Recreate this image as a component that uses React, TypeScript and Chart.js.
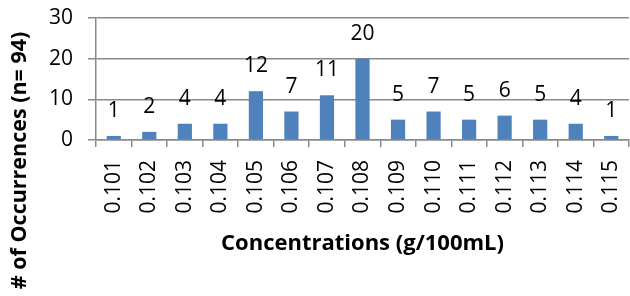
import React, { useEffect, useRef } from "react";
import { Chart, registerables } from "chart.js";

Chart.register(...registerables);

const categories = ["0.101", "0.102", "0.103", "0.104", "0.105", "0.106", "0.107", "0.108", "0.109", "0.110", "0.111", "0.112", "0.113", "0.114", "0.115"];
const occurrences = [1, 2, 4, 4, 12, 7, 11, 20, 5, 7, 5, 6, 5, 4, 1];
const yTicks = [0, 10, 20, 30];
const xTitle = "Concentrations (g/100mL)";
const yTitle = "# of Occurrences (n= 94)";

const FONT = "'Open Sans', sans-serif";
const GRID = "#8a8a8a";

const dataLabels = {
  id: "dataLabels",
  afterDatasetsDraw(chart: any) {
    const ctx = chart.ctx;
    const meta = chart.getDatasetMeta(0);
    ctx.save();
    ctx.font = `21px ${FONT}`;
    ctx.fillStyle = "#000";
    ctx.textAlign = "center";
    ctx.textBaseline = "alphabetic";
    meta.data.forEach((bar: any, i: number) => {
      ctx.fillText(String(occurrences[i]), bar.x, bar.y - 19);
    });
    ctx.restore();
  },
};

const yTitlePlugin = {
  id: "yTitlePlugin",
  afterDraw(chart: any) {
    const ctx = chart.ctx;
    ctx.save();
    ctx.translate(20, chart.height * 0.542);
    ctx.rotate(-Math.PI / 2);
    ctx.font = `bold 21.5px ${FONT}`;
    ctx.fillStyle = "#000";
    ctx.textAlign = "center";
    ctx.textBaseline = "middle";
    ctx.fillText(yTitle, 0, 0);
    ctx.restore();
  },
};

export default function App() {
  const ref = useRef<HTMLCanvasElement>(null);
  useEffect(() => {
    document.body.style.margin = "0";
    const chart = new Chart(ref.current!, {
      type: "bar",
      data: {
        labels: categories,
        datasets: [
          {
            data: occurrences,
            backgroundColor: "#4F81BD",
            borderWidth: 0,
            barPercentage: 0.4,
            categoryPercentage: 1,
          },
        ],
      },
      options: {
        responsive: false,
        animation: false,
        layout: { padding: { top: 18, right: 1, left: 0, bottom: 0 } },
        plugins: { legend: { display: false }, tooltip: { enabled: false } },
        scales: {
          x: {
            offset: true,
            grid: { offset: true, drawOnChartArea: false, drawTicks: true, tickLength: 7, color: GRID, lineWidth: 1.5 },
            border: { color: GRID, width: 1.5 },
            ticks: { color: "#000", font: { family: FONT, size: 21 }, maxRotation: 90, minRotation: 90, padding: 13, autoSkip: false },
            title: { display: true, text: xTitle, color: "#000", font: { family: FONT, size: 22, weight: "bold" }, padding: { top: 0, bottom: 39 } },
            afterFit(scale: any) {
              scale.height = 156;
              scale.paddingLeft = 0;
              scale.paddingRight = 0;
            },
          },
          y: {
            min: 0,
            max: 30,
            afterBuildTicks(scale: any) {
              scale.ticks = yTicks.map((v) => ({ value: v }));
            },
            grid: { color: GRID, lineWidth: 1.5, tickLength: 8 },
            border: { color: GRID, width: 1.5 },
            ticks: { color: "#000", font: { family: FONT, size: 21 }, padding: 15 },
            afterFit(scale: any) {
              scale.width = 96;
              scale.paddingTop = 0;
              scale.paddingBottom = 0;
            },
          },
        },
      },
      plugins: [dataLabels, yTitlePlugin],
    });
    return () => chart.destroy();
  }, []);
  return <canvas ref={ref} width={630} height={296} style={{ display: "block" }} />;
}
